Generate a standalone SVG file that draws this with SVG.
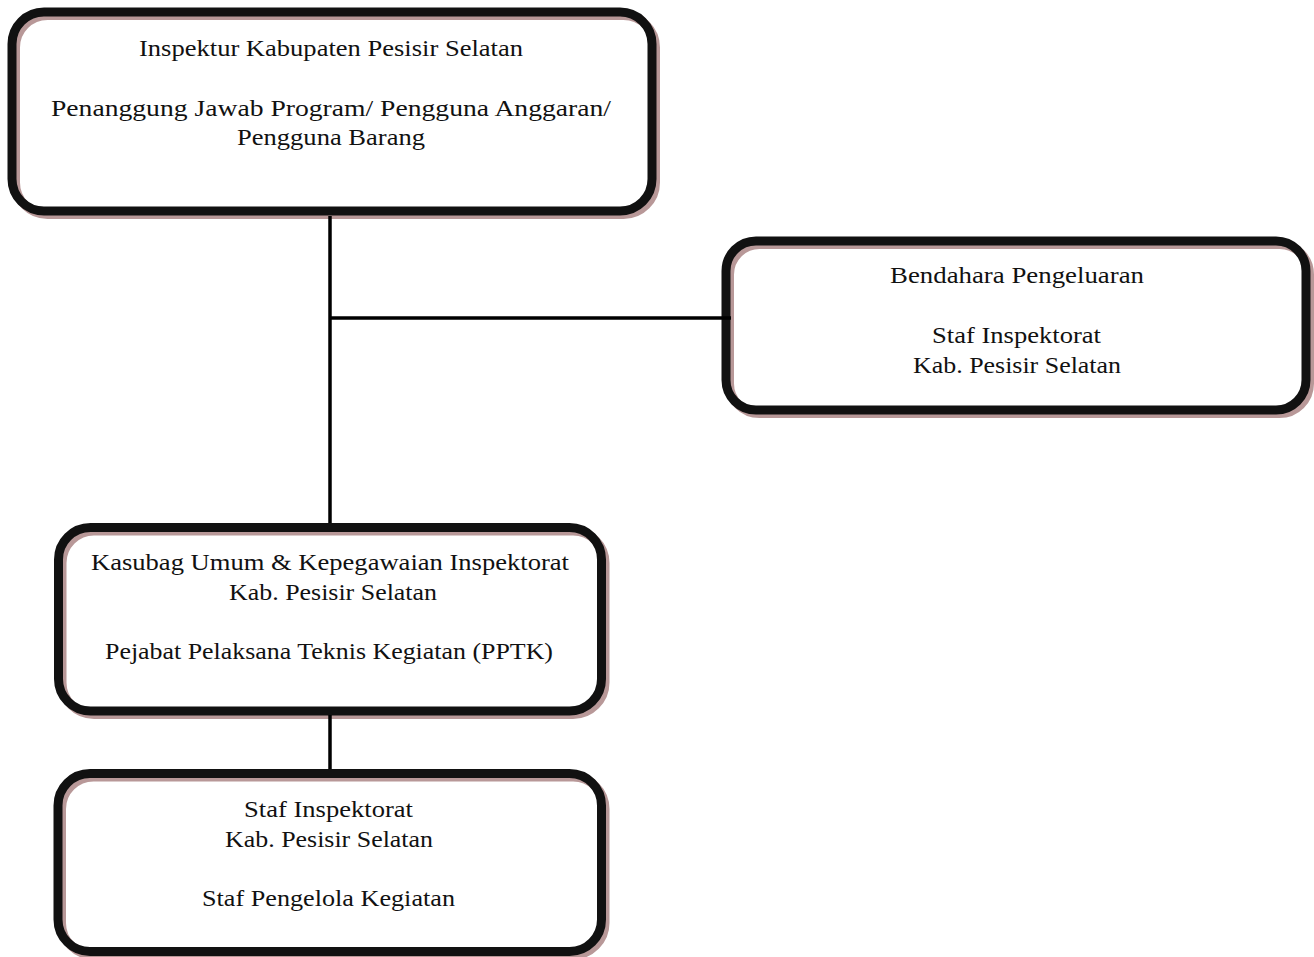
<svg xmlns="http://www.w3.org/2000/svg" width="1314" height="957" viewBox="0 0 1314 957">
<style>
.bg{fill:#ffffff}
.sh{fill:none;stroke:#b89898;stroke-width:9}
.bx{fill:none;stroke:#111111;stroke-width:9}
.ln{stroke:#000000;stroke-width:3.5;fill:none}
text{font-family:"Liberation Serif","Times New Roman",serif;font-size:22.5px;fill:#111111;text-anchor:middle}
</style>
<rect x="0" y="0" width="1314" height="957" fill="#ffffff"/>
<g id="node-inspektur">
<rect class="bg" x="12" y="12" width="640" height="199" rx="32"/>
<rect class="sh" x="15.5" y="15.5" width="640" height="199" rx="32"/>
<rect class="bx" x="12" y="12" width="640" height="199" rx="32"/>
<text x="331" y="56" textLength="384" lengthAdjust="spacingAndGlyphs">Inspektur Kabupaten Pesisir Selatan</text>
<text x="331" y="115.5" textLength="560" lengthAdjust="spacingAndGlyphs">Penanggung Jawab Program/ Pengguna Anggaran/</text>
<text x="331" y="145" textLength="188" lengthAdjust="spacingAndGlyphs">Pengguna Barang</text>
</g>
<g id="node-bendahara">
<rect class="bg" x="726" y="241" width="580" height="169" rx="30"/>
<rect class="sh" x="729.5" y="244.5" width="580" height="169" rx="30"/>
<rect class="bx" x="726" y="241" width="580" height="169" rx="30"/>
<text x="1017" y="283" textLength="254" lengthAdjust="spacingAndGlyphs">Bendahara Pengeluaran</text>
<text x="1016.5" y="343" textLength="169" lengthAdjust="spacingAndGlyphs">Staf Inspektorat</text>
<text x="1017" y="373" textLength="208" lengthAdjust="spacingAndGlyphs">Kab. Pesisir Selatan</text>
</g>
<g id="node-kasubag">
<rect class="bg" x="58.5" y="527.5" width="543" height="183.5" rx="32"/>
<rect class="sh" x="62" y="531" width="543" height="183.5" rx="32"/>
<rect class="bx" x="58.5" y="527.5" width="543" height="183.5" rx="32"/>
<text x="330" y="569.5" textLength="478" lengthAdjust="spacingAndGlyphs">Kasubag Umum &amp; Kepegawaian Inspektorat</text>
<text x="333" y="599.5" textLength="208" lengthAdjust="spacingAndGlyphs">Kab. Pesisir Selatan</text>
<text x="329" y="659" textLength="448" lengthAdjust="spacingAndGlyphs">Pejabat Pelaksana Teknis Kegiatan (PPTK)</text>
</g>
<g id="node-staf">
<rect class="bg" x="58" y="773.5" width="543.5" height="178" rx="32"/>
<rect class="sh" x="61.5" y="777" width="543.5" height="178" rx="32"/>
<rect class="bx" x="58" y="773.5" width="543.5" height="178" rx="32"/>
<text x="328.5" y="817" textLength="169" lengthAdjust="spacingAndGlyphs">Staf Inspektorat</text>
<text x="329" y="847" textLength="208" lengthAdjust="spacingAndGlyphs">Kab. Pesisir Selatan</text>
<text x="328.5" y="906" textLength="253" lengthAdjust="spacingAndGlyphs">Staf Pengelola Kegiatan</text>
</g>
<g id="connectors">
<line class="ln" x1="330" y1="216" x2="330" y2="523"/>
<line class="ln" x1="330" y1="318" x2="731" y2="318"/>
<line class="ln" x1="330" y1="715" x2="330" y2="769"/>
</g>
</svg>
